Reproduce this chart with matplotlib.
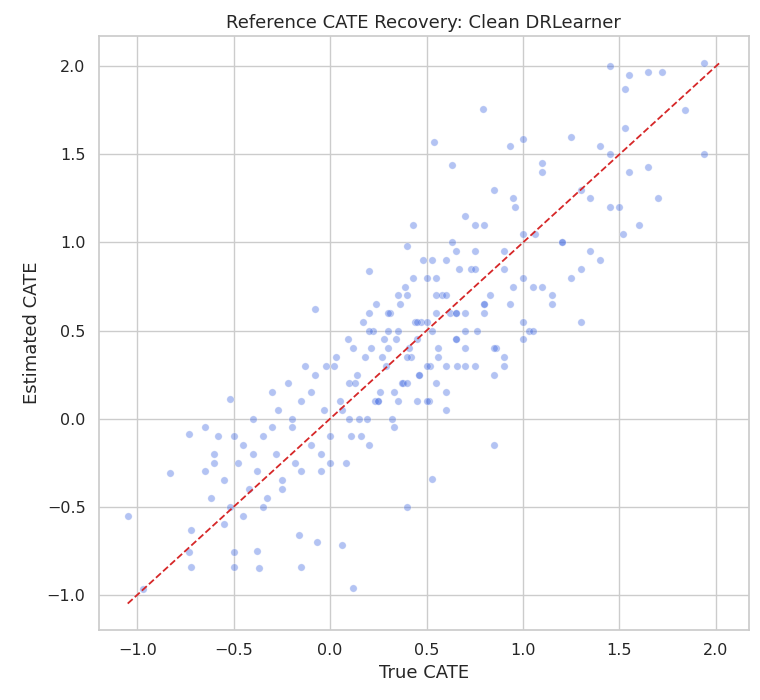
import matplotlib
matplotlib.use("Agg")
import matplotlib.pyplot as plt
import seaborn as sns
import numpy as np

# Points (a representative subset)
true_cate = [-1.05,-0.97,-0.83,-0.73,-0.72,-0.72,-0.73,-0.65,-0.52,-0.5,-0.5,-0.38,-0.37,-0.16,-0.15,-0.08,-0.07,0.06,0.12,0.2,0.4,0.53,0.54,0.85,
 1.94,1.94,1.84,1.72,1.65,1.55,1.45,1.53,1.3,1.52,1.53,1.65,1.0,0.93,0.79,0.63,0.43,0.4,
 -0.65,-0.62,-0.6,-0.58,-0.55,-0.52,-0.48,-0.45,-0.42,-0.4,-0.38,-0.35,-0.33,-0.3,-0.28,-0.27,-0.25,-0.22,-0.2,-0.18,-0.15,-0.13,-0.1,-0.08,-0.05,-0.03,
 -0.6,-0.55,-0.5,-0.45,-0.4,-0.35,-0.3,-0.25,-0.2,-0.15,-0.1,-0.05,0.0,0.02,0.05,0.08,0.1,0.12,0.15,0.18,0.2,0.22,0.25,0.28,
 -0.02,0.0,0.03,0.06,0.09,0.11,0.14,0.17,0.19,0.21,0.24,0.26,0.29,0.31,0.33,0.35,0.38,0.4,0.42,0.45,0.47,0.5,0.52,0.55,
 0.1,0.13,0.16,0.2,0.23,0.27,0.3,0.32,0.34,0.37,0.39,0.41,0.44,0.46,0.48,0.51,0.53,0.56,0.58,0.6,0.62,0.65,0.67,0.7,
 0.3,0.33,0.36,0.4,0.43,0.46,0.5,0.53,0.56,0.6,0.63,0.66,0.7,0.73,0.76,0.8,0.83,0.86,0.9,0.93,0.96,1.0,1.03,1.06,
 0.5,0.55,0.6,0.65,0.7,0.75,0.8,0.85,0.9,0.95,1.0,1.05,1.1,1.15,1.2,1.25,1.3,1.35,1.4,1.45,
 0.6,0.65,0.7,0.75,0.8,0.85,0.9,0.95,1.0,1.05,1.1,1.15,1.2,1.25,1.3,1.35,1.4,1.45,1.5,1.55,1.6,1.7,
 0.2,0.25,0.3,0.35,0.4,0.45,0.5,0.55,0.6,0.65,0.7,0.75,0.8,0.9,1.0,1.1,0.35,0.45,0.55,0.65,0.75,0.85]
est_cate = [-0.55,-0.97,-0.31,-0.76,-0.84,-0.63,-0.09,-0.05,0.11,-0.76,-0.84,-0.75,-0.85,-0.66,-0.84,0.62,-0.7,-0.72,-0.96,0.84,-0.5,-0.34,1.57,-0.15,
 2.02,1.5,1.75,1.97,1.97,1.95,2.0,1.87,0.55,1.05,1.65,1.43,1.59,1.55,1.76,1.44,1.1,0.98,
 -0.3,-0.45,-0.2,-0.1,-0.35,-0.5,-0.25,-0.15,-0.4,0.0,-0.3,-0.1,-0.45,0.15,-0.2,0.05,-0.35,0.2,-0.05,-0.25,0.1,0.3,-0.15,0.25,-0.3,0.05,
 -0.25,-0.6,-0.1,-0.55,-0.2,-0.5,-0.05,-0.4,0.0,-0.3,0.15,-0.2,-0.1,0.3,0.1,-0.25,0.2,0.4,0.0,0.35,-0.15,0.5,0.1,0.45,
 0.3,-0.25,0.35,0.05,0.45,-0.1,0.25,0.55,0.0,0.4,0.65,0.15,0.3,0.6,-0.05,0.5,0.2,0.7,0.35,0.1,0.55,0.8,0.3,0.6,
 0.0,0.2,-0.1,0.5,0.1,0.35,0.6,0.0,0.45,0.2,0.75,0.4,0.55,0.25,0.9,0.1,0.5,0.35,0.7,0.15,0.6,0.45,0.85,0.3,
 0.5,0.15,0.65,0.35,0.8,0.25,0.55,0.9,0.4,0.7,1.0,0.3,0.6,0.85,0.5,1.1,0.7,0.4,0.95,0.65,1.2,0.8,0.5,1.05,
 0.1,0.7,0.3,0.95,0.5,1.1,0.6,0.25,0.85,1.25,0.45,0.75,1.4,0.65,1.0,0.8,1.3,0.95,1.55,1.2,
 0.9,0.45,1.15,0.3,0.65,1.3,0.35,0.75,1.05,0.5,1.45,0.7,1.0,1.6,0.85,1.25,0.9,1.5,1.2,1.4,1.1,1.25,
 0.6,0.1,0.4,0.7,0.2,0.55,0.3,0.8,0.05,0.6,0.4,0.95,0.65,0.3,0.55,0.75,0.1,0.45,0.2,0.6,0.85,0.4]

sns.set_theme(style="whitegrid")
fig, ax = plt.subplots(figsize=(7.6, 7.0), dpi=100)
ax.scatter(true_cate, est_cate, s=28, color="#4169e1", alpha=0.4, edgecolor="white", linewidth=0.5)
lo = min(min(true_cate), min(est_cate)); hi = max(max(true_cate), max(est_cate))
ax.plot([lo, hi], [lo, hi], "--", color="#d62728", linewidth=1.3)
ax.set_xlim(-1.2, 2.17); ax.set_ylim(-1.2, 2.17)
ax.set_xticks([-1.0,-0.5,0.0,0.5,1.0,1.5,2.0]); ax.set_yticks([-1.0,-0.5,0.0,0.5,1.0,1.5,2.0])
ax.set_xlabel("True CATE", fontsize=13); ax.set_ylabel("Estimated CATE", fontsize=13)
ax.set_title("Reference CATE Recovery: Clean DRLearner", fontsize=13)
ax.tick_params(labelsize=11.5)
fig.subplots_adjust(left=0.13, right=0.985, bottom=0.1, top=0.948)
fig.savefig("out.png")
